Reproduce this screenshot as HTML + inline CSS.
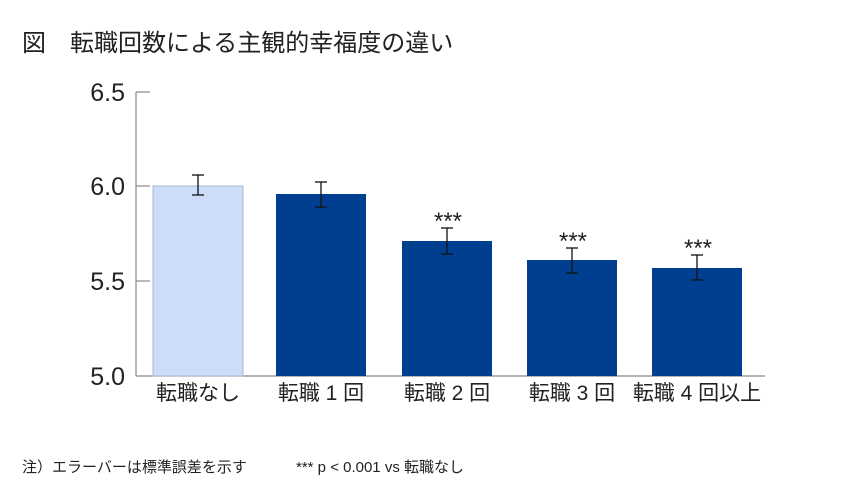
<!DOCTYPE html>
<html><head><meta charset="utf-8"><style>
body{margin:0;background:#fff;}
svg text{font-family:"Liberation Sans","Noto Sans CJK JP",sans-serif;fill:#222;}
</style></head><body>
<svg width="860" height="483" xmlns="http://www.w3.org/2000/svg">
<text x="22" y="51" font-size="24">図　転職回数による主観的幸福度の違い</text>
<g stroke="#888" stroke-width="1.2" fill="none">
<line x1="136" y1="92" x2="136" y2="376"/>
<line x1="136" y1="376" x2="765" y2="376"/>
<line x1="136" y1="92" x2="150" y2="92"/>
<line x1="136" y1="186" x2="150" y2="186"/>
<line x1="136" y1="281" x2="150" y2="281"/>
</g>
<g font-size="25" text-anchor="end">
<text x="125" y="101">6.5</text>
<text x="125" y="195">6.0</text>
<text x="125" y="290">5.5</text>
<text x="125" y="385">5.0</text>
</g>
<rect x="153" y="186" width="90" height="190" fill="#cddcf9" stroke="#a8b8d4"/>
<rect x="276" y="194" width="90" height="182" fill="#003f8f"/>
<rect x="402" y="241" width="90" height="135" fill="#003f8f"/>
<rect x="527" y="260" width="90" height="116" fill="#003f8f"/>
<rect x="652" y="268" width="90" height="108" fill="#003f8f"/>
<g stroke="#111" stroke-width="1.3">
<line x1="198" y1="175" x2="198" y2="195"/><line x1="192" y1="175" x2="204" y2="175"/><line x1="192" y1="195" x2="204" y2="195"/>
<line x1="321" y1="182" x2="321" y2="207"/><line x1="315" y1="182" x2="327" y2="182"/><line x1="315" y1="207" x2="327" y2="207"/>
<line x1="447" y1="228" x2="447" y2="254"/><line x1="441" y1="228" x2="453" y2="228"/><line x1="441" y1="254" x2="453" y2="254"/>
<line x1="572" y1="248" x2="572" y2="273"/><line x1="566" y1="248" x2="578" y2="248"/><line x1="566" y1="273" x2="578" y2="273"/>
<line x1="697" y1="255" x2="697" y2="280"/><line x1="691" y1="255" x2="703" y2="255"/><line x1="691" y1="280" x2="703" y2="280"/>
</g>
<g font-size="24" text-anchor="middle">
<text x="448" y="229">***</text>
<text x="573" y="249">***</text>
<text x="698" y="256">***</text>
</g>
<g font-size="21" text-anchor="middle">
<text x="198" y="400">転職なし</text>
<text x="321" y="400">転職 1 回</text>
<text x="447" y="400">転職 2 回</text>
<text x="572" y="400">転職 3 回</text>
<text x="697" y="400">転職 4 回以上</text>
</g>
<text x="22" y="472" font-size="15">注）エラーバーは標準誤差を示す</text>
<text x="296" y="472" font-size="15">*** p &lt; 0.001 vs 転職なし</text>
</svg>
</body></html>
